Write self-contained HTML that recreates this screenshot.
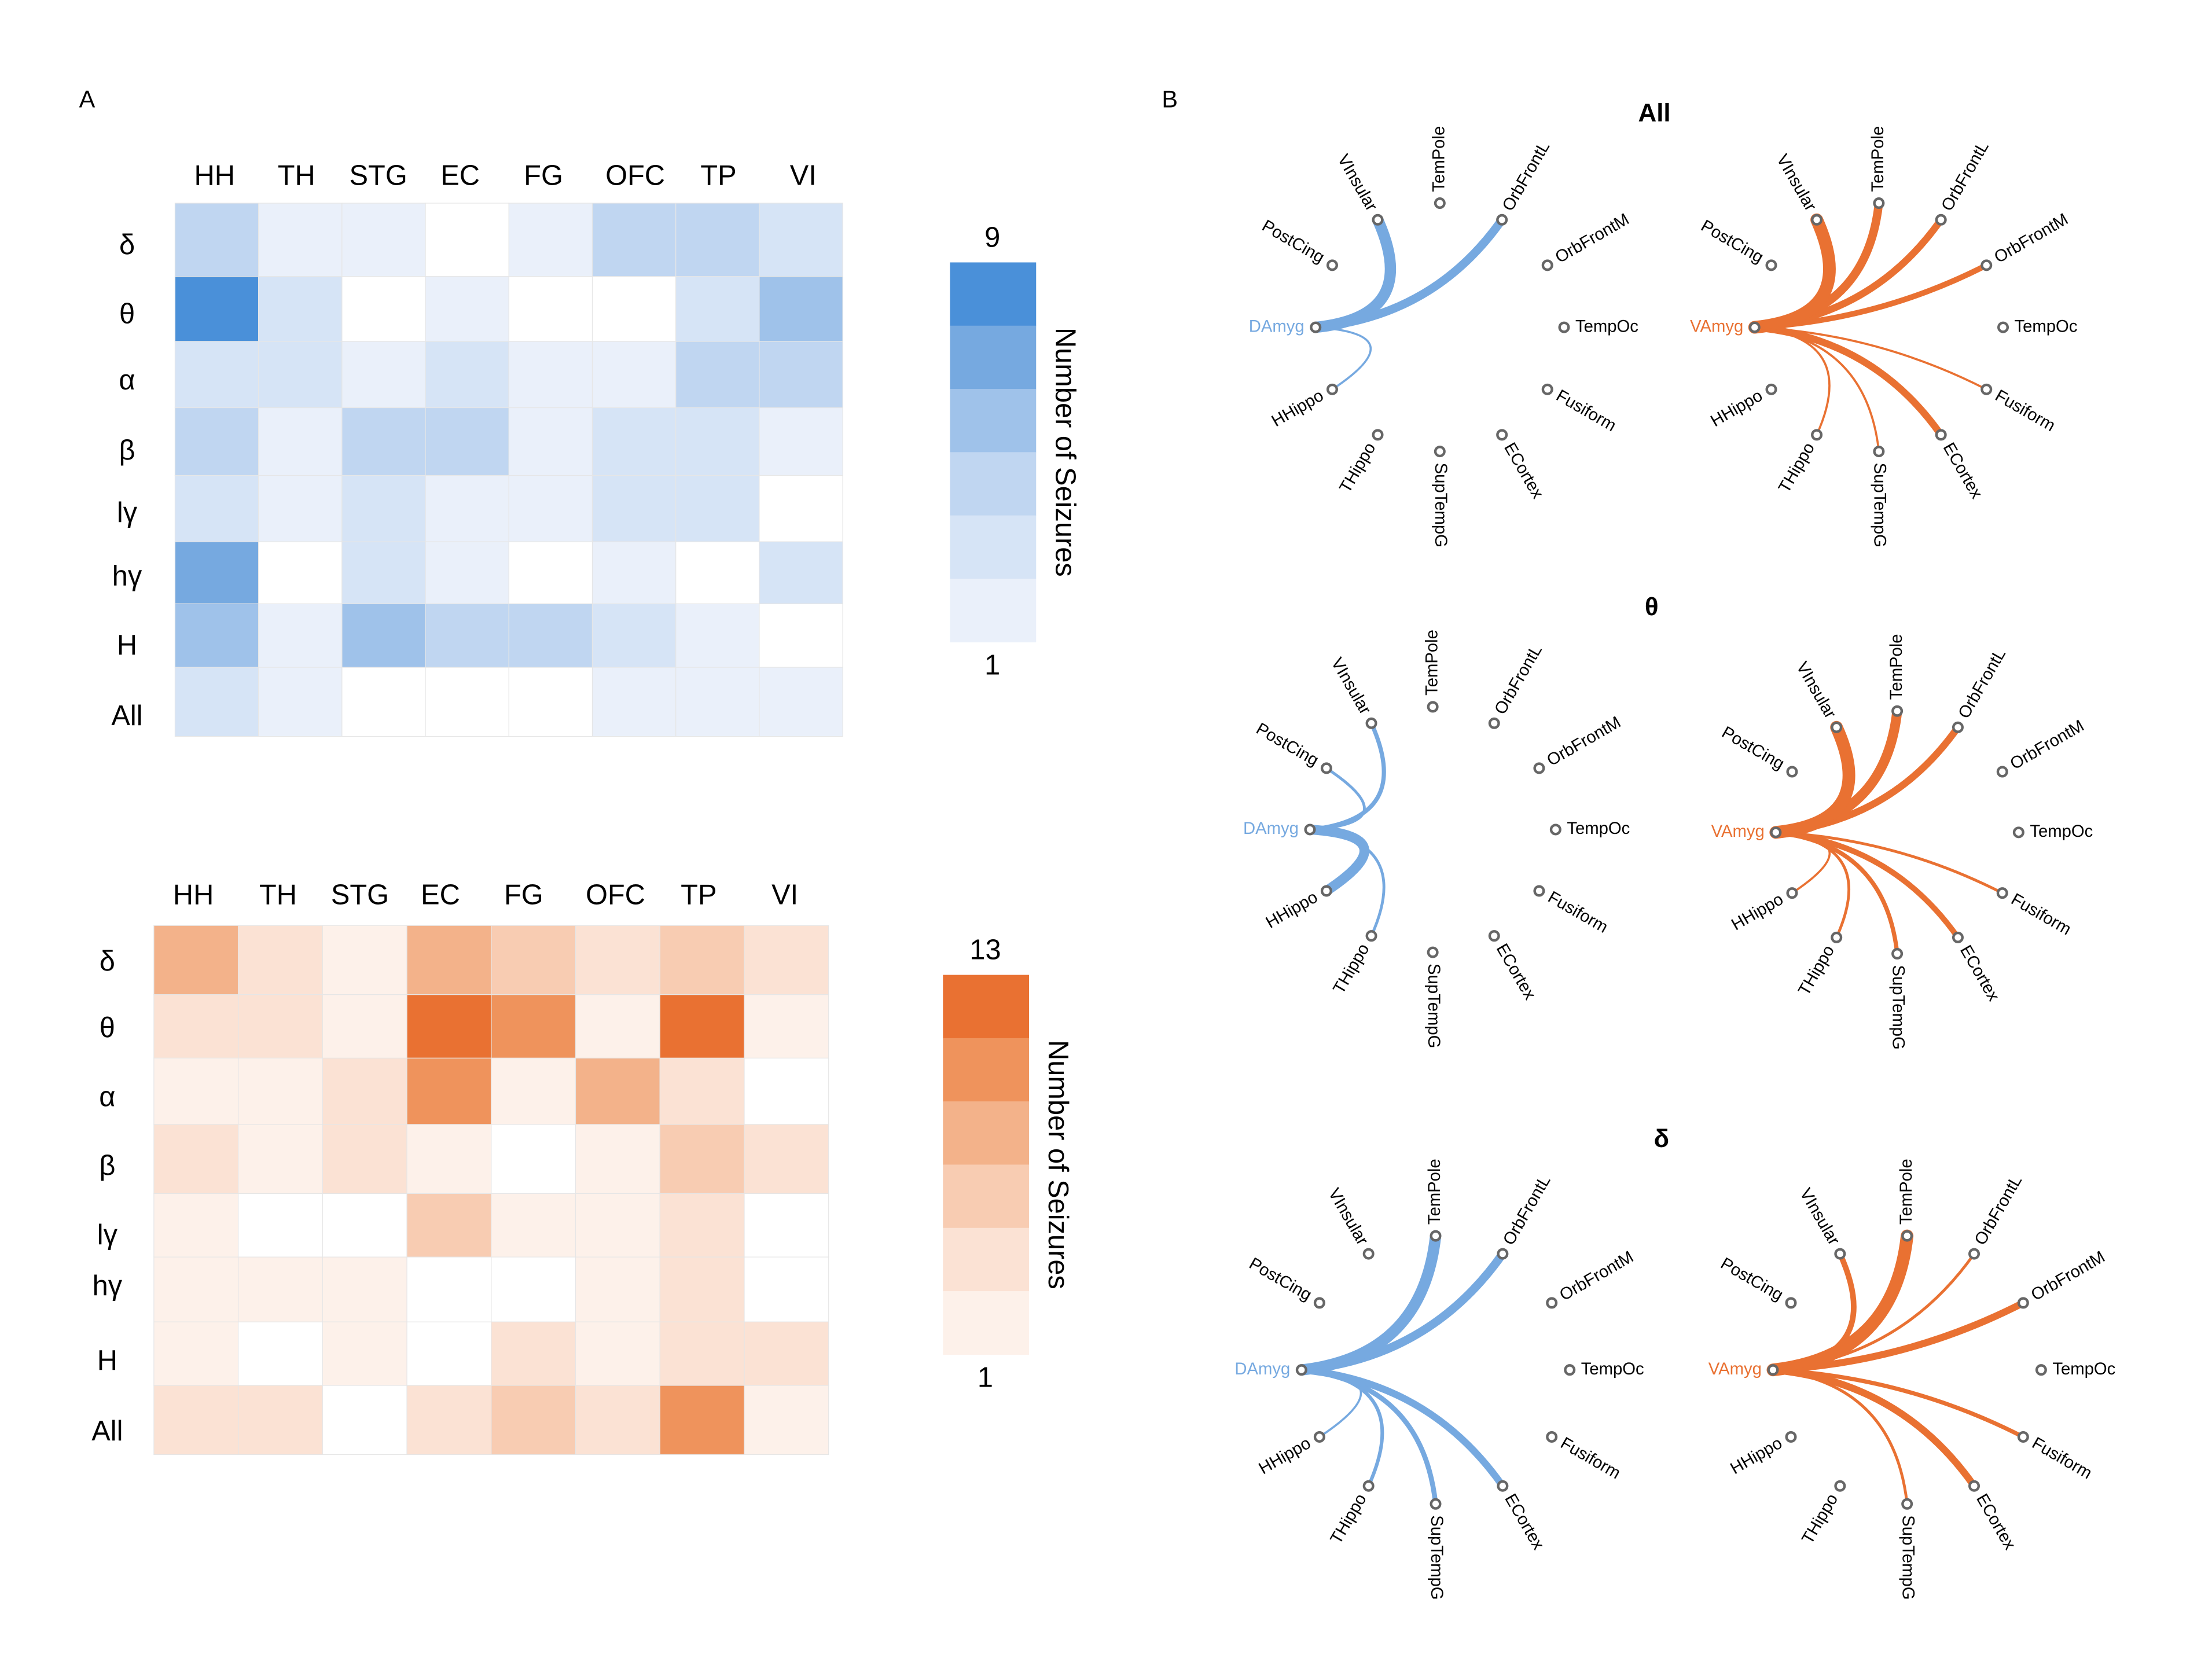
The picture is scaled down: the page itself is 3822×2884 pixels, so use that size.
<!DOCTYPE html>
<html><head><meta charset="utf-8"><style>html,body{margin:0;padding:0;background:#fff}svg{display:block}</style></head>
<body>
<svg id="s" xmlns="http://www.w3.org/2000/svg" width="3822" height="2884" viewBox="0 0 1567 1183" preserveAspectRatio="none" font-family="Liberation Sans, DejaVu Sans, sans-serif">
<rect width="1567" height="1183" fill="#fff"/>
<text x="56" y="76" font-size="17">A</text>
<text x="823" y="76" font-size="17">B</text>
<g id="g"></g>
</svg>
<script>
const NS="http://www.w3.org/2000/svg",G=document.getElementById('g');
function el(t,a,txt){const e=document.createElementNS(NS,t);for(const k in a)e.setAttribute(k,a[k]);if(txt!=null)e.textContent=txt;G.appendChild(e);return e;}
const rows=['δ','θ','α','β','lγ','hγ','H','All'],cols=['HH','TH','STG','EC','FG','OFC','TP','VI'];
const blue=['#ffffff','#eaf0fa','#d6e4f6','#c0d6f1','#9fc2ea','#76a9e0','#4a90d9'];
const orange=['#ffffff','#fdf1ea','#fbe2d4','#f8ccb2','#f3b28a','#ef935c','#e97132'];
const B=[[3,1,1,0,1,3,3,2],[6,2,0,1,0,0,2,4],[2,2,1,2,1,1,3,3],[3,1,3,3,1,2,2,1],[2,1,2,1,1,2,2,0],[5,0,2,1,0,1,0,2],[4,1,3.5,3,3,2,1,0],[2,1,0,0,0,1,1,1]];
const O=[[4,2,1,4,3,2,3,2],[2,2,1,6,5,1,6,1],[1,1,2,5,1,4,2,0],[2,1,2,1,0,1,3,2],[1,0,0,3,1,1,2,0],[1,1,1,0,0,1,2,0],[1,0,1,0,2,1,2,2],[2,2,0,2,3,2,5,1]];
function col(p,v){if(v%1){return p[Math.ceil(v)];}return p[v];}
function heat(x0,x1,ys,data,pal,colx,coly,rowx,rowy){
 const w=(x1-x0)/8;
 for(let r=0;r<8;r++)for(let c=0;c<8;c++)el('rect',{x:x0+c*w,y:ys[r],width:w,height:ys[r+1]-ys[r],fill:col(pal,data[r][c]),stroke:'#e6e6e6','stroke-width':0.5});
 cols.forEach((t,i)=>el('text',{x:colx[i],y:coly,'font-size':20,'text-anchor':'middle'},t));
 rows.forEach((t,i)=>el('text',{x:rowx,y:rowy[i],'font-size':20,'text-anchor':'middle'},t));
}
heat(124,597,[144,196,242,289,337,384,428,473,522],B,blue,[152,210,268,326,385,450,509,569],131,90,[180,229,276,326,370,415,464,514]);
heat(109,587,[656,705,750,797,846,891,937,982,1031],O,orange,[137,197,255,312,371,436,495,556],641,76,[688,735,784,833,882,918,971,1021]);
function cbar(x,y0,y1,pal,top,bot,lx){const h=(y1-y0)/6;for(let i=0;i<6;i++)el('rect',{x:x,y:y0+i*h,width:61,height:h+0.3,fill:pal[6-i]});
 el('text',{x:x+30,y:y0-11,'font-size':20,'text-anchor':'middle'},top);el('text',{x:x+30,y:y1+23,'font-size':20,'text-anchor':'middle'},bot);
 el('text',{x:lx,y:(y0+y1)/2,'font-size':20,'text-anchor':'middle',transform:`rotate(90 ${lx} ${(y0+y1)/2})`},'Number of Seizures');}
cbar(673,186,455,blue,'9','1',748);cbar(668,691,960,orange,'13','1',743);
const names={150:'PostCing',120:'VInsular',90:'TemPole',60:'OrbFrontL',30:'OrbFrontM',0:'TempOc','-30':'Fusiform','-60':'ECortex','-90':'SupTempG','-120':'THippo','-150':'HHippo'};
function chord(cx,cy,r,amyg,color,edges){
 const ax=cx-r,ay=cy;
 for(const k in edges){const a=+k*Math.PI/180,tx=cx+r*Math.cos(a),ty=cy-r*Math.sin(a);
  const mx=(ax+tx)/2,my=(ay+ty)/2,qx=mx+0.8*(cx-mx),qy=my+0.8*(cy-my);
  el('path',{d:`M${ax} ${ay} Q${qx} ${qy} ${tx} ${ty}`,fill:'none',stroke:color,'stroke-width':edges[k],'stroke-linecap':'round'});}
 for(const k in names){const d=+k,a=d*Math.PI/180,x=cx+r*Math.cos(a),y=cy-r*Math.sin(a);
  el('circle',{cx:x,cy:y,r:3.2,fill:'#fff',stroke:'#666','stroke-width':1.8});
  const lx=cx+(r+8)*Math.cos(a),ly=cy-(r+8)*Math.sin(a);
  let rot,anc;if(Math.cos(a)>-0.01){rot=-d;anc='start';}else{rot=180-d;anc='end';}
  el('text',{x:lx,y:ly,'font-size':12,'text-anchor':anc,'dominant-baseline':'middle',transform:`rotate(${rot} ${lx} ${ly})`},names[k]);}
 el('circle',{cx:ax,cy:ay,r:3.2,fill:'#fff',stroke:'#666','stroke-width':1.8});
 el('text',{x:ax-8,y:ay,'font-size':12,'text-anchor':'end','dominant-baseline':'middle',fill:color},amyg);
}
const BL='#76a9e0',OR='#e97132';
chord(1020,232,88,'DAmyg',BL,{120:8,60:6,'-150':1.5});
chord(1331,232,88,'VAmyg',OR,{120:9,90:6,60:5,30:4,'-30':1.5,'-60':5,'-90':1.5,'-120':1.5});
chord(1015,588,87,'DAmyg',BL,{150:2,120:3,'-150':7,'-120':2});
chord(1344,590,86,'VAmyg',OR,{120:9,90:7,60:5,'-30':2,'-60':4,'-90':3,'-120':2,'-150':1.5});
chord(1017,971,95,'DAmyg',BL,{90:8,60:6,'-60':5,'-90':3.5,'-120':2.5,'-150':1.5});
chord(1351,971,95,'VAmyg',OR,{120:4,90:9,60:2,30:5,'-30':3,'-60':5,'-90':2});
el('text',{x:1172,y:86,'font-size':18,'font-weight':'bold','text-anchor':'middle'},'All');
el('text',{x:1170,y:436,'font-size':18,'font-weight':'bold','text-anchor':'middle'},'θ');
el('text',{x:1177,y:813,'font-size':18,'font-weight':'bold','text-anchor':'middle'},'δ');
</script>
</body></html>
